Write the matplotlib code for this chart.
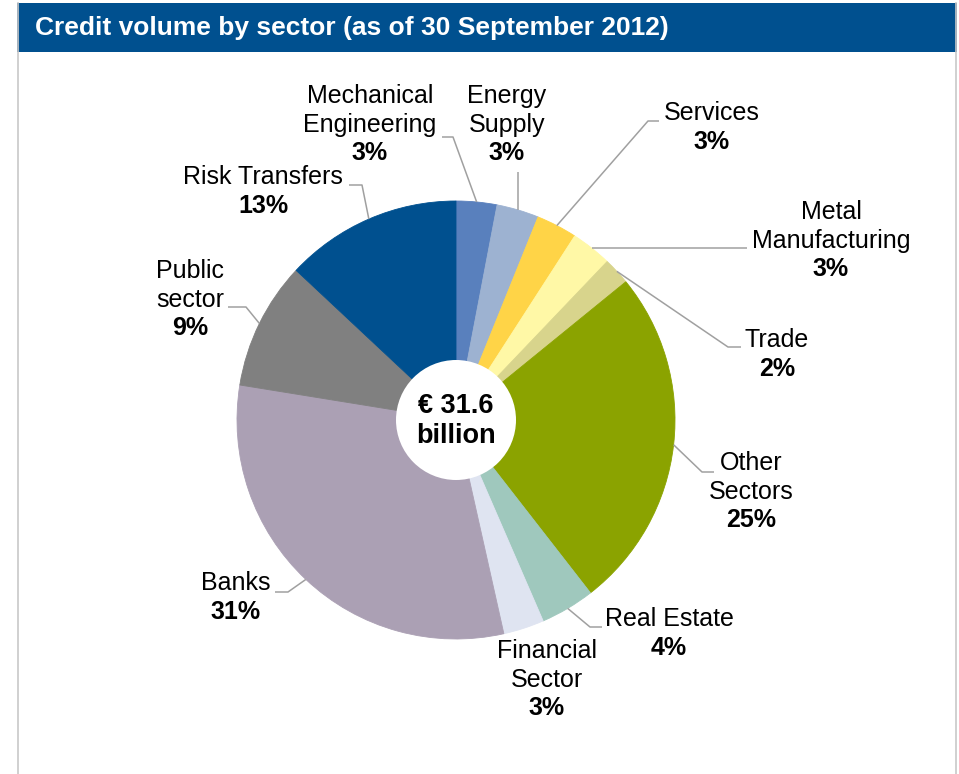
import numpy as np
import matplotlib
matplotlib.use("Agg")
import matplotlib.pyplot as plt
from matplotlib.patches import Rectangle, Circle

# Credit volume by sector, clockwise from 12 o'clock (percent of total)
sectors = ["Mechanical\nEngineering", "Energy\nSupply", "Services", "Metal\nManufacturing",
           "Trade", "Other\nSectors", "Real Estate", "Financial\nSector", "Banks",
           "Public\nsector", "Risk Transfers"]
shares = [3.0, 3.1, 3.0, 3.0, 2.0, 25.3, 4.0, 3.0, 31.0, 9.4, 13.0]
colors = ["#5980BD", "#9DB2D1", "#FFD447", "#FFF8A6", "#D8D48C", "#8BA300",
          "#9FC8BD", "#DFE4F1", "#ABA0B4", "#808080", "#00508F"]
total_label = "€ 31.6\nbillion"
title = "Credit volume by sector (as of 30 September 2012)"

# label placement in pixels: text centre x, first line y, leader elbow, leader end
label_pos = [
    (370, 96, (453, 137), (442, 137)),
    (507, 96, None, (None, 172)),
    (712, 113, (648, 121), (659, 121)),
    (831, 212, None, (747, None)),
    (777, 340, (728, 347), (741, 347)),
    (751, 463, (702, 472), (714, 472)),
    (669, 619, (590, 627), (602, 627)),
    (547, 651, None, None),
    (236, 583, (288, 592), (275, 592)),
    (190, 271, (246, 307), (228, 307)),
    (263, 177, (362, 185), (349, 185)),
]

W, H = 959, 774
cx, cy, R = 456, 420, 219
line_h = 28.6
font = "Liberation Sans"

fig = plt.figure(figsize=(W / 100, H / 100), dpi=100)
ax = fig.add_axes([0, 0, 1, 1])

# y axis runs downward (pixel style), so "clockwise from top" becomes
# counterclock=True starting at -90 degrees
wedges, _ = ax.pie(shares, colors=colors, startangle=-90, counterclock=True,
                   center=(cx, cy), radius=R,
                   wedgeprops=dict(linewidth=0.6, antialiased=True))
for w, c in zip(wedges, colors):
    w.set_edgecolor(c)

ax.set_xlim(0, W)
ax.set_ylim(H, 0)
ax.set_aspect("equal")
ax.axis("off")

# donut hole with total
ax.add_patch(Circle((cx, cy), 60, facecolor="white", edgecolor="none", zorder=3))
ax.text(cx, cy + 1, total_label, ha="center", va="center", fontsize=19.5,
        fontweight="bold", family=font, linespacing=1.2, zorder=4)

# labels and leader lines
for w, name, pct, (tx, ty, elbow, end) in zip(wedges, sectors, shares, label_pos):
    lines = name.split("\n")
    for i, s in enumerate(lines):
        ax.text(tx, ty + i * line_h, s, ha="center", va="center",
                fontsize=18, family=font)
    ax.text(tx, ty + len(lines) * line_h, f"{pct:.0f}%", ha="center", va="center",
            fontsize=18, fontweight="bold", family=font)

    if end is None:
        continue
    mid = np.deg2rad((w.theta1 + w.theta2) / 2)
    sx, sy = cx + R * np.cos(mid), cy + R * np.sin(mid)
    ex, ey = end
    ex = sx if ex is None else ex
    ey = sy if ey is None else ey
    xs, ys = [sx], [sy]
    if elbow is not None:
        xs.append(elbow[0])
        ys.append(elbow[1])
    xs.append(ex)
    ys.append(ey)
    ax.plot(xs, ys, color="#A0A0A0", lw=1.1, solid_capstyle="butt", zorder=1)

# header bar and panel frame
ax.add_patch(Rectangle((17, 3), 940, 49, facecolor="#00508F", edgecolor="none", zorder=0))
ax.plot([17.5, 17.5], [3, H], color="#C8C8C8", lw=1.2, zorder=0)
ax.plot([955.5, 955.5], [3, H], color="#C8C8C8", lw=1.2, zorder=0)
ax.text(35, 28, title, ha="left", va="center", color="white", fontsize=19,
        fontweight="bold", family=font)

fig.savefig("out.png", dpi=100)
